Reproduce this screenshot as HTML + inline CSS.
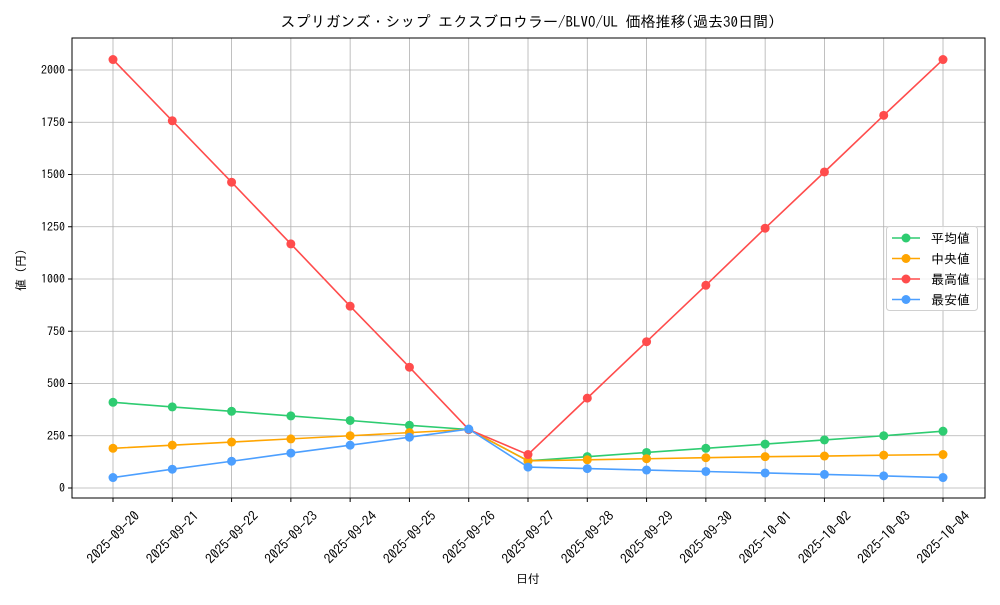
<!DOCTYPE html><html><head><meta charset="utf-8"><style>body{margin:0;background:#fff}svg text{font-family:"IPAGothic","Noto Sans CJK JP",sans-serif;fill:#000}</style></head><body>
<svg id="s" width="1000" height="600" xmlns="http://www.w3.org/2000/svg"></svg>
<script>
const s=document.getElementById('s');let h='';
const X=i=>113+59.286*i, Y=v=>488-v*0.209;
const L=72,R=985,T=38,B=498;
const dates=['09-20','09-21','09-22','09-23','09-24','09-25','09-26','09-27','09-28','09-29','09-30','10-01','10-02','10-03','10-04'];
for(let i=0;i<15;i++){h+=`<line x1="${X(i)}" y1="${T}" x2="${X(i)}" y2="${B}" stroke="#b0b0b0" stroke-width="0.8"/>`;
h+=`<line x1="${X(i)}" y1="${B}" x2="${X(i)}" y2="${B+4}" stroke="#000"/>`;
h+=`<text transform="translate(${X(i)},${537}) rotate(-45)" text-anchor="middle" dominant-baseline="central" font-size="13.5">2025-${dates[i]}</text>`;}
for(let v=0;v<=2000;v+=250){h+=`<line x1="${L}" y1="${Y(v)}" x2="${R}" y2="${Y(v)}" stroke="#b0b0b0" stroke-width="0.8"/>`;
h+=`<line x1="${L-4}" y1="${Y(v)}" x2="${L}" y2="${Y(v)}" stroke="#000"/>`;
h+=`<text x="${L-7}" y="${Y(v)+4}" text-anchor="end" font-size="12">${v}</text>`;}
const S=[['#2ecc71',[410,388,367,345,323,300,280,130,150,170,190,210,230,250,272]],
['#ffa500',[190,205,220,235,250,265,280,130,135,140,145,150,153,157,160]],
['#ff4c4c',[2050,1757,1463,1168,870,578,280,160,430,700,970,1243,1512,1783,2050]],
['#4c9fff',[50,90,128,167,205,243,282,100,93,86,79,72,65,58,50]]];
for(const [c,d] of S){h+=`<polyline fill="none" stroke="${c}" stroke-width="1.6" points="${d.map((v,i)=>X(i)+','+Y(v)).join(' ')}"/>`;
d.forEach((v,i)=>h+=`<circle cx="${X(i)}" cy="${Y(v)}" r="4.5" fill="${c}"/>`);}
h+=`<rect x="${L}" y="${T}" width="${R-L}" height="${B-T}" fill="none" stroke="#000" stroke-width="1"/>`;
h+=`<rect x="886.5" y="226.5" width="91" height="84" rx="3" fill="#fff" fill-opacity="0.8" stroke="#d0d0d0"/>`;
const n=['平均値','中央値','最高値','最安値'];
S.forEach((q,k)=>{const y=238+k*20.5;h+=`<line x1="892" y1="${y}" x2="920" y2="${y}" stroke="${q[0]}" stroke-width="1.6"/><circle cx="906" cy="${y}" r="4.5" fill="${q[0]}"/><text x="931" y="${y+5}" font-size="13">${n[k]}</text>`;});
h+=`<text x="528" y="27" text-anchor="middle" font-size="15">スプリガンズ・シップ エクスブロウラー/BLVO/UL 価格推移(過去30日間)</text>`;
h+=`<text x="528" y="583" text-anchor="middle" font-size="12">日付</text>`;
h+=`<text transform="translate(25,270) rotate(-90)" text-anchor="middle" font-size="12">値 (円)</text>`;
s.innerHTML=h;
</script></body></html>
